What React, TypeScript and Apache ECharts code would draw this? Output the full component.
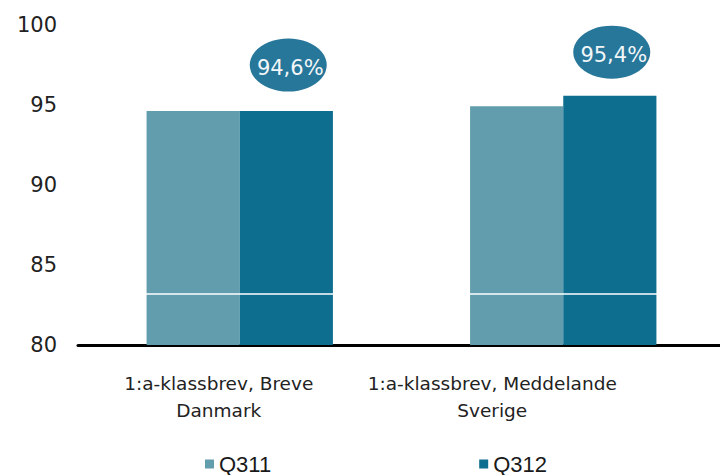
import React, { useEffect, useRef } from "react";
import * as echarts from "echarts";

const categories = ["1:a-klassbrev, Breve\nDanmark", "1:a-klassbrev, Meddelande\nSverige"];
const seriesNames = ["Q311", "Q312"];
const q311 = [94.6, 94.9];
const q312 = [94.6, 95.55];
const calloutValues = [94.6, 95.4];
const yMin = 80;
const yMax = 100;
const yInterval = 5;
const refLineValue = 83.2;

const labelShift = [42, 142];

export default function App() {
  const ref = useRef<HTMLDivElement>(null);
  useEffect(() => {
    if (!ref.current) return;
    const chart = echarts.init(ref.current, undefined, { renderer: "svg" });
    const rich: Record<string, any> = {};
    labelShift.forEach((s, i) => {
      rich["c" + i] = {
        fontFamily: "DejaVu Sans",
        fontSize: 18.5,
        color: "#222",
        lineHeight: 27,
        padding: [0, s, 0, 0],
      };
    });
    chart.setOption({
      animation: false,
      backgroundColor: "#fff",
      grid: {
        left: 78,
        right: -5,
        top: 24.5,
        bottom: 130,
        containLabel: false,
        outerBoundsMode: "none",
      },
      legend: {
        data: seriesNames,
        left: 205,
        top: 453,
        padding: 0,
        icon: "rect",
        itemWidth: 9,
        itemHeight: 9,
        itemGap: 208,
        textStyle: { fontFamily: "Liberation Sans", fontSize: 22, color: "#1a1a1a" },
      },
      xAxis: {
        type: "category",
        data: categories,
        axisLine: { lineStyle: { color: "#000", width: 3 } },
        axisTick: { show: false },
        axisLabel: {
          interval: 0,
          margin: 25,
          hideOverlap: false,
          formatter: (v: string, i: number) =>
            v
              .split("\n")
              .map((line) => `{c${i}|${line}}`)
              .join("\n"),
          rich,
        },
      },
      yAxis: {
        type: "value",
        min: yMin,
        max: yMax,
        interval: yInterval,
        axisLine: { show: false },
        axisTick: { show: false },
        splitLine: { show: false },
        axisLabel: { fontFamily: "DejaVu Sans", fontSize: 21, color: "#222", margin: 21 },
      },
      series: [
        {
          name: seriesNames[0],
          type: "bar",
          data: q311,
          barGap: "0%",
          barCategoryGap: "42.4%",
          itemStyle: { color: "#629DAD" },
        },
        {
          name: seriesNames[1],
          type: "bar",
          data: q312,
          barGap: "0%",
          barCategoryGap: "42.4%",
          itemStyle: { color: "#0E6E8F" },
          markLine: {
            silent: true,
            symbol: "none",
            label: { show: false },
            lineStyle: { color: "#fff", width: 1.5, type: "solid" },
            data: [{ yAxis: refLineValue }],
          },
        },
        {
          name: "callout",
          type: "scatter",
          data: calloutValues,
          symbol: "circle",
          symbolSize: [77, 53],
          symbolOffset: [48.5, -46],
          itemStyle: { color: "#27779A", opacity: 1 },
          z: 5,
          label: {
            show: true,
            position: "inside",
            offset: [2, 3],
            fontFamily: "DejaVu Sans",
            fontSize: 21,
            color: "#F2F6F8",
            formatter: (p: any) => p.value.toFixed(1).replace(".", ",") + "%",
          },
        },
      ],
    });
    return () => chart.dispose();
  }, []);
  return <div ref={ref} style={{ position: "fixed", left: 0, top: 0, width: 720, height: 475 }} />;
}
